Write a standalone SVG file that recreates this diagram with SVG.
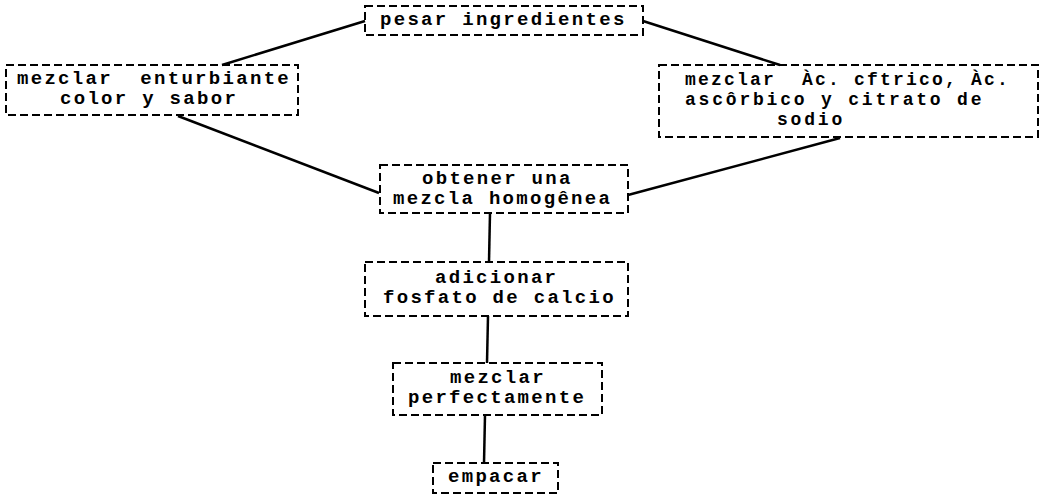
<svg xmlns="http://www.w3.org/2000/svg" width="1044" height="495" viewBox="0 0 1044 495">
<style>
.box{fill:none;stroke:#000;stroke-width:2;stroke-dasharray:8 4}
.t{font-family:"Liberation Mono",monospace;font-weight:bold;font-size:19px;letter-spacing:2.3px;fill:#000}
.s{font-size:18px;letter-spacing:2.8px}
.c{stroke:#000;stroke-width:2.5;fill:none}
</style>
<rect width="1044" height="495" fill="#fff"/>
<g id="connectors">
<line class="c" x1="365" y1="21" x2="222" y2="65"/>
<line class="c" x1="643" y1="21" x2="780" y2="65"/>
<line class="c" x1="178" y1="116" x2="379" y2="193"/>
<line class="c" x1="840" y1="138" x2="628" y2="195"/>
<line class="c" x1="490" y1="213" x2="489" y2="262"/>
<line class="c" x1="488" y1="316" x2="487" y2="363"/>
<line class="c" x1="485" y1="415" x2="484" y2="463"/>
</g>
<g id="n1">
<rect class="box" x="365" y="6" width="278" height="29"/>
<text class="t" x="380" y="25">pesar ingredientes</text>
</g>
<g id="n2">
<rect class="box" x="6" y="65" width="292" height="50"/>
<text class="t" x="17" y="84" xml:space="preserve">mezclar  enturbiante</text>
<text class="t" x="60" y="104">color y sabor</text>
</g>
<g id="n3">
<rect class="box" x="659" y="65" width="379" height="72"/>
<text class="t s" x="685" y="85" xml:space="preserve" style="letter-spacing:2.2px">mezclar  Àc. cftrico, Àc.</text>
<text class="t s" x="685" y="105">ascôrbico y citrato de</text>
<text class="t s" x="777" y="125">sodio</text>
</g>
<g id="n4">
<rect class="box" x="380" y="165" width="248" height="48"/>
<text class="t" x="422" y="184">obtener una</text>
<text class="t" x="393" y="204">mezcla homogênea</text>
</g>
<g id="n5">
<rect class="box" x="365" y="262" width="263" height="54"/>
<text class="t" x="435" y="283">adicionar</text>
<text class="t" x="383" y="303">fosfato de calcio</text>
</g>
<g id="n6">
<rect class="box" x="393" y="363" width="209" height="52"/>
<text class="t" x="450" y="383">mezclar</text>
<text class="t" x="408" y="403">perfectamente</text>
</g>
<g id="n7">
<rect class="box" x="433" y="463" width="125" height="30"/>
<text class="t" x="448" y="482">empacar</text>
</g>
</svg>
